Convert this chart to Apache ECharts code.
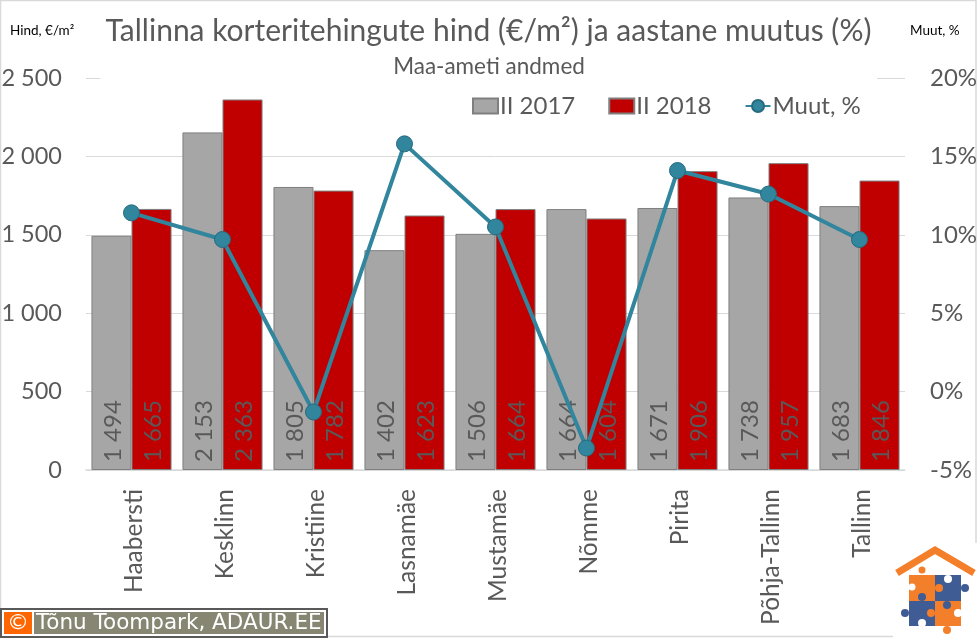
<!DOCTYPE html>
<html>
<head>
    <meta charset="utf-8"/>
    <script src="https://cdnjs.cloudflare.com/ajax/libs/echarts/6.0.0/echarts.min.js"></script>
    <style>html,body{margin:0;padding:0;background:#fff}</style>
</head>
<body>
<div id="main" style="width:977px;height:638px;"></div>
<script type="text/javascript">
    var categories = ['Haabersti', 'Kesklinn', 'Kristiine', 'Lasnamäe', 'Mustamäe', 'Nõmme', 'Pirita', 'Põhja-Tallinn', 'Tallinn'];
    var price2017 = [1494, 2153, 1805, 1402, 1506, 1664, 1671, 1738, 1683];
    var price2018 = [1665, 2363, 1782, 1623, 1664, 1604, 1906, 1957, 1846];
    var change = [11.4, 9.7, -1.3, 15.8, 10.5, -3.6, 14.1, 12.6, 9.7];

    var font = 'Lato';
    var textColor = '#595959';
    var orange = '#f47f2a';
    var blue = '#3f5c94';

    function spaced(v) {
        return String(v).replace(/\B(?=(\d{3})+$)/g, ' ');
    }

    function barLabel() {
        return {
            show: true,
            position: 'insideBottom',
            rotate: 90,
            align: 'left',
            verticalAlign: 'middle',
            distance: 8,
            offset: [0, 2],
            color: textColor,
            fontFamily: font,
            fontSize: 24,
            formatter: function (p) { return spaced(p.value); }
        };
    }

    // puzzle logo, bottom right corner
    function knob(x, y, r, color) {
        return { type: 'circle', shape: { cx: x, cy: y, r: r }, style: { fill: color }, z: 21 };
    }
    function piece(x, y, w, h, color) {
        return { type: 'rect', shape: { x: x, y: y, width: w, height: h }, style: { fill: color }, z: 20 };
    }
    var logo = [
        { type: 'rect', shape: { x: 893, y: 543, width: 84, height: 95 }, style: { fill: '#fff' }, z: 19 },
        { type: 'polyline', shape: { points: [[897, 573], [935, 550], [974, 573]] }, style: { stroke: orange, lineWidth: 7, fill: null }, z: 20 },
        piece(909, 575, 26, 26, orange),
        piece(935, 575, 26, 26, blue),
        piece(909, 601, 26, 25, blue),
        piece(935, 601, 26, 25, orange),
        knob(922, 570, 3.5, orange),
        knob(912, 587, 3.5, '#fff'),
        knob(948, 579, 4, '#fff'),
        knob(965, 588, 4, blue),
        knob(939, 588, 4, orange),
        knob(922, 597, 4, blue),
        knob(947, 605, 4, blue),
        knob(931, 613, 4, orange),
        knob(905, 613, 4, blue),
        knob(922, 623, 4, '#fff'),
        knob(958, 613, 4, '#fff'),
        knob(947, 630, 4, orange)
    ];

    var graphic = [
        // chart frame
        { type: 'rect', shape: { x: 0.5, y: 0.5, width: 975.5, height: 636 }, style: { fill: null, stroke: '#d9d9d9', lineWidth: 1.5 }, z: 0 },
        // white box behind the headings hides the top gridline
        { type: 'rect', shape: { x: 100, y: 70, width: 777, height: 16 }, style: { fill: '#fff' }, z: 1 },
        // copyright tag
        { type: 'rect', shape: { x: 0, y: 608, width: 328, height: 30 }, style: { fill: '#595959' }, z: 20 },
        { type: 'rect', shape: { x: 2, y: 610, width: 324, height: 26 }, style: { fill: '#fff' }, z: 20 },
        { type: 'rect', shape: { x: 4, y: 612, width: 28, height: 22 }, style: { fill: '#ff6600' }, z: 21 },
        { type: 'rect', shape: { x: 34, y: 612, width: 290, height: 22 }, style: { fill: '#868672' }, z: 21 },
        { type: 'text', x: 18, y: 623, style: { text: '©', fill: '#fff', font: '22px "DejaVu Sans"', textAlign: 'center', textVerticalAlign: 'middle' }, z: 22 },
        { type: 'text', x: 36, y: 623, style: { text: 'Tõnu Toompark, ADAUR.EE', fill: '#fff', font: '21.5px "DejaVu Sans"', textAlign: 'left', textVerticalAlign: 'middle' }, z: 22 }
    ].concat(logo);

    var myChart = echarts.init(document.getElementById('main'));
    var option = {
        animation: false,
        backgroundColor: '#fff',
        textStyle: { fontFamily: font },
        title: [
            { text: 'Tallinna korteritehingute hind (€/m²) ja aastane muutus (%)', left: 483.5, top: 11, textAlign: 'center', textStyle: { color: textColor, fontFamily: font, fontWeight: 'normal', fontSize: 30 } },
            { text: 'Maa-ameti andmed', left: 484, top: 50, textAlign: 'center', textStyle: { color: textColor, fontFamily: font, fontWeight: 'normal', fontSize: 22.5 } },
            { text: 'Hind, €/m²', left: 5, top: 19, textStyle: { color: '#000', fontFamily: font, fontWeight: 'normal', fontSize: 13.5 } },
            { text: 'Muut, %', left: 905, top: 19, textStyle: { color: '#000', fontFamily: font, fontWeight: 'normal', fontSize: 13.5 } }
        ],
        legend: {
            left: 472,
            top: 94,
            padding: 0,
            itemWidth: 25,
            itemHeight: 15,
            itemGap: 33,
            textStyle: { color: textColor, fontFamily: font, fontSize: 24, padding: [0, 0, 0, -3] },
            data: [
                { name: 'II 2017', icon: 'rect' },
                { name: 'II 2018', icon: 'rect' },
                { name: 'Muut, %' }
            ]
        },
        grid: { left: 86, right: 72, top: 78, bottom: 168, outerBoundsMode: 'none' },
        xAxis: {
            type: 'category',
            data: categories,
            axisLine: { lineStyle: { color: '#d9d9d9', width: 1.5 } },
            axisTick: { show: false },
            axisLabel: {
                rotate: 90, margin: 19, interval: 0,
                formatter: '{a|{value}}',
                rich: { a: { color: textColor, fontFamily: font, fontSize: 24.5, padding: [5, 0, 0, 0] } }
            }
        },
        yAxis: [
            {
                type: 'value', min: 0, max: 2500, interval: 500,
                axisLine: { show: false },
                axisTick: { show: false },
                splitLine: { lineStyle: { color: '#d9d9d9', width: 1 } },
                axisLabel: { margin: 24, color: textColor, fontFamily: font, fontSize: 23.5, formatter: spaced }
            },
            {
                type: 'value', min: -5, max: 20, interval: 5,
                axisLine: { show: false },
                axisTick: { show: false },
                splitLine: { show: false },
                axisLabel: { margin: 25, color: textColor, fontFamily: font, fontSize: 24, formatter: '{value}%' }
            }
        ],
        series: [
            {
                name: 'II 2017', type: 'bar', data: price2017,
                barGap: 0, barCategoryGap: '12%',
                itemStyle: { color: '#a6a6a6', borderColor: '#7f7f7f', borderWidth: 1 },
                label: barLabel()
            },
            {
                name: 'II 2018', type: 'bar', data: price2018,
                itemStyle: { color: '#c00000', borderColor: '#7f7f7f', borderWidth: 1 },
                label: barLabel()
            },
            {
                name: 'Muut, %', type: 'line', yAxisIndex: 1, data: change,
                symbol: 'circle', symbolSize: 16, z: 10,
                lineStyle: { color: '#31859c', width: 4 },
                itemStyle: { color: '#31859c', borderColor: '#256a7e', borderWidth: 1 }
            }
        ],
        graphic: graphic
    };

    option && myChart.setOption(option);
</script>
</body>
</html>
